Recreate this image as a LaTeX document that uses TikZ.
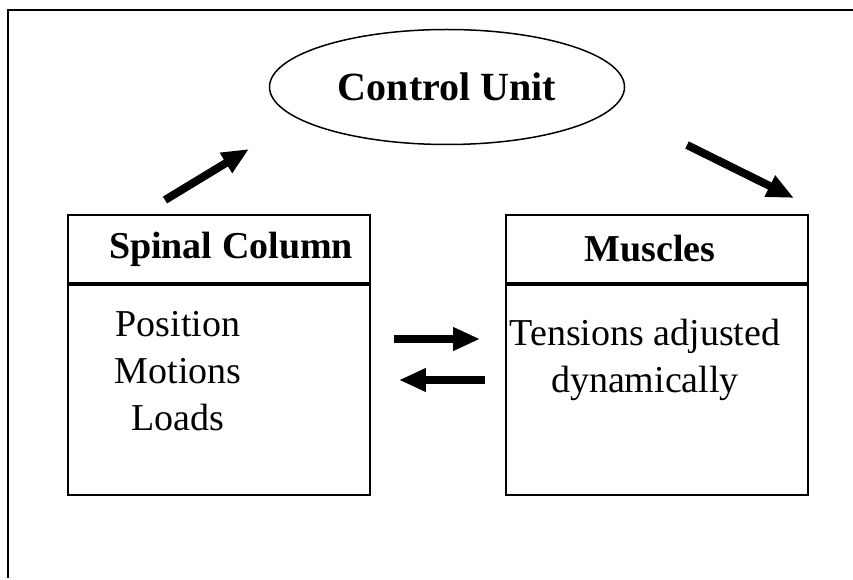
\documentclass[tikz,border=0pt]{standalone}
\usepackage{fontspec}
\setmainfont{Liberation Serif}
\usetikzlibrary{positioning,shapes.geometric,arrows.meta}

\begin{document}
\begin{tikzpicture}[x=1pt,y=-1pt,
		font=\fontsize{38}{47}\selectfont,
		box/.style={draw,line width=1.8pt,minimum width=302pt,inner sep=0pt},
		bigarrow/.style={line width=8pt,-{Triangle[length=27pt,width=22pt]}}]
		\useasboundingbox (0,0) rectangle (853,580);
		\draw[line width=1.8pt] (8,578) -- (8,10) -- (853,10);
		%%%%%%%%%%%%%%%%%%%%%%%%%%%%%%%%%
		\node[draw,ellipse,line width=1.5pt,minimum width=355pt,minimum height=115pt,font=\fontsize{40}{47}\selectfont\bfseries] (control) at (447,87){Control Unit};
		%%%%%%%%%%%%%%%%%%%%%%%%%%%%%%%%%
		\node[box,minimum height=68pt] (spinalhead) at (219,249){};
		\node[box,minimum height=210pt,below=0pt of spinalhead] (spinalbody){};
		\node[font=\fontsize{38}{47}\selectfont\bfseries] at (231,249){Spinal Column};
		\node[align=center] (spinaltext) at (178,371){Position\\Motions\\Loads};
		%%%%%%%%%%%%%%%%%%%%%%%%%%%%%%%%%
		\node[box,minimum height=68pt] (musclehead) at (657,249){};
		\node[box,minimum height=210pt,below=0pt of musclehead] (musclebody){};
		\node[font=\fontsize{38}{47}\selectfont\bfseries] at (650,249){Muscles};
		\node[align=center] (muscletext) at (645,360){Tensions adjusted\\dynamically};
		%%%%%%%%%%%%%%%%%%%%%%%%%%%%%%%%%
		\coordinate (upfrom) at (165,200);
		\coordinate (upto) at (249,149);
		\coordinate (downfrom) at (687,145);
		\coordinate (downto) at (794,198);
		\draw[bigarrow] (upfrom) -- (upto);
		\draw[bigarrow] (downfrom) -- (downto);
		\draw[bigarrow,shorten <=23pt,shorten >=25pt] (spinalbody.east |- 0,339) -- (musclebody.west |- 0,339);
		\draw[bigarrow,shorten <=20pt,shorten >=28pt] (musclebody.west |- 0,380) -- (spinalbody.east |- 0,380);
	\end{tikzpicture}
\end{document}
